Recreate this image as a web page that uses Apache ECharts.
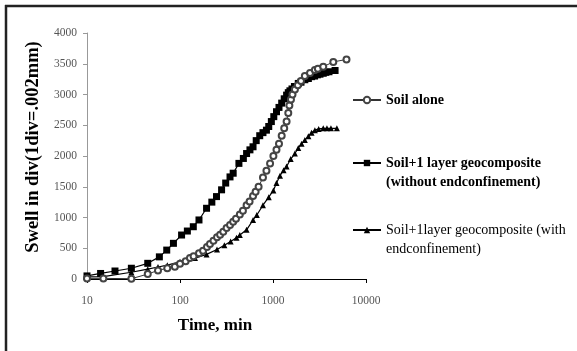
<!DOCTYPE html>
<html><head><meta charset="utf-8">
<script src="https://cdn.jsdelivr.net/npm/echarts@6/dist/echarts.min.js"></script>
<style>html,body{margin:0;padding:0;background:#fff}#c{width:577px;height:351px}</style>
</head><body><div id="c"></div>
<script>
// Time (min) and swell (div) readings
const soilAloneT = [10,15,30,45,58,73,88,100,115,128,140,160,177,195,210,229,250,270,292,317,345,373,400,440,475,520,560,610,650,700,780,850,930,1010,1090,1160,1240,1320,1400,1460,1500,1560,1620,1720,1850,2000,2200,2500,2820,3040,3470,4450,6170];
const soilAloneV = [10,10,5,80,140,175,200,250,290,340,370,420,460,520,570,620,680,720,770,830,880,930,980,1050,1110,1200,1260,1350,1420,1500,1650,1760,1880,2000,2100,2200,2330,2450,2560,2700,2820,2920,3000,3080,3150,3220,3300,3350,3400,3420,3452,3530,3570];

const withoutT = [10,14,20,30,45,60,72,85,104,120,139,160,193,220,247,280,310,345,373,430,480,520,565,610,660,720,780,850,900,960,1020,1090,1160,1240,1320,1400,1460,1520,1600,1700,1870,2000,2200,2400,2600,2800,3000,3200,3470,3700,4000,4650];
const withoutV = [50,90,130,175,255,360,470,580,715,780,850,960,1150,1250,1340,1450,1560,1660,1720,1880,1960,2040,2100,2150,2250,2330,2380,2420,2480,2560,2640,2720,2790,2860,2930,2990,3030,3060,3090,3130,3180,3200,3240,3260,3290,3300,3320,3330,3345,3360,3370,3390];

const withT = [10,15,30,45,58,73,100,145,193,250,300,350,405,440,520,610,670,780,900,1010,1090,1190,1300,1400,1550,1720,1870,2030,2200,2400,2600,2820,3100,3470,3800,4200,4860];
const withV = [35,40,110,160,195,225,280,340,400,480,550,610,670,715,800,960,1040,1200,1330,1440,1560,1680,1770,1830,1950,2040,2130,2200,2260,2320,2380,2420,2440,2450,2450,2450,2450];

const seriesNames = ['Soil alone','Soil+1 layer geocomposite\n(without endconfinement)','Soil+1layer geocomposite (with\nendconfinement)'];
const yTicks = [0,500,1000,1500,2000,2500,3000,3500,4000];
const xTicks = [10,100,1000,10000];

const pairs = (t, v) => t.map((x, i) => [x, v[i]]);
const chart = echarts.init(document.getElementById('c'), null, {renderer: 'canvas'});
const serif = '"Liberation Serif","DejaVu Serif",serif';
const legText = {fontFamily: serif, fontSize: 14, fontWeight: 'bold', color: '#000'};
const legBase = {orient: 'vertical', left: 352, padding: 0, itemWidth: 28, itemHeight: 8, itemGap: 0};
chart.setOption({
  animation: false,
  backgroundColor: '#fff',
  grid: {left: 87, right: 211, top: 33, bottom: 72},
  xAxis: {
    type: 'log', logBase: 10, min: xTicks[0], max: xTicks[xTicks.length-1],
    axisLine: {lineStyle: {color: '#000', width: 1}},
    axisTick: {show: true, length: 4, lineStyle: {color: '#000'}},
    axisLabel: {fontFamily: serif, fontSize: 11.5, color: '#555', margin: 16, formatter: v => String(v)},
    splitLine: {show: false}, minorTick: {show: false}
  },
  yAxis: {
    type: 'value', min: yTicks[0], max: yTicks[yTicks.length-1], interval: 500,
    axisLine: {show: true, lineStyle: {color: '#999', width: 1}},
    axisTick: {show: true, length: 4, lineStyle: {color: '#999'}},
    axisLabel: {fontFamily: serif, fontSize: 11.5, color: '#555', margin: 10, formatter: v => String(v)},
    splitLine: {show: false}
  },
  legend: [
    Object.assign({}, legBase, {data: [seriesNames[0]], top: 91, textStyle: Object.assign({}, legText, {lineHeight: 18})}),
    Object.assign({}, legBase, {data: [seriesNames[1]], top: 134.5, formatter: n => '\n' + n, textStyle: Object.assign({}, legText, {lineHeight: 19})}),
    Object.assign({}, legBase, {data: [seriesNames[2]], top: 201.5, formatter: n => '\n' + n, textStyle: Object.assign({}, legText, {fontWeight: 'normal', lineHeight: 19})})
  ],
  graphic: [
    {type: 'line', shape: {x1: 5, y1: 6, x2: 577, y2: 6}, style: {stroke: '#222', lineWidth: 2.5}},
    {type: 'line', shape: {x1: 6, y1: 5, x2: 6, y2: 351}, style: {stroke: '#222', lineWidth: 2.5}},
    {type: 'text', x: 215, y: 326, style: {text: 'Time, min', font: 'bold 17px "Liberation Serif", serif', fill: '#000', textAlign: 'center', textVerticalAlign: 'middle'}},
    {type: 'text', x: 33, y: 147, rotation: Math.PI/2, style: {text: 'Swell in div(1div=.002mm)', font: 'bold 18.5px "Liberation Serif", serif', fill: '#000', textAlign: 'center', textVerticalAlign: 'middle'}}
  ],
  series: [
    {name: seriesNames[0], type: 'line', data: pairs(soilAloneT, soilAloneV), symbol: 'emptyCircle', symbolSize: 6,
     lineStyle: {color: '#333', width: 1}, itemStyle: {color: '#444', borderWidth: 0.8}, z: 3},
    {name: seriesNames[1], type: 'line', data: pairs(withoutT, withoutV), symbol: 'rect', symbolSize: 7,
     lineStyle: {color: '#000', width: 1.2}, itemStyle: {color: '#000'}, z: 2},
    {name: seriesNames[2], type: 'line', data: pairs(withT, withV), symbol: 'triangle', symbolSize: 6,
     lineStyle: {color: '#000', width: 1.2}, itemStyle: {color: '#000'}, z: 2}
  ]
});
</script></body></html>
